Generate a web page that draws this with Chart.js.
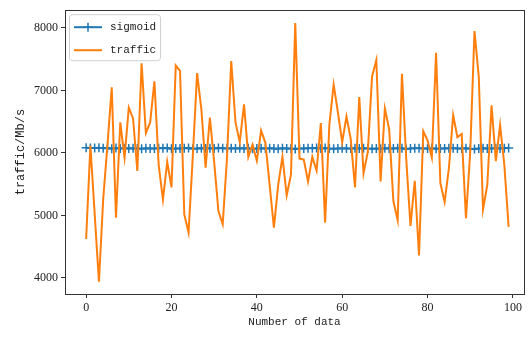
<!DOCTYPE html>
<html>
<head>
<meta charset="utf-8">
<script src="https://cdn.jsdelivr.net/npm/chart.js@4/dist/chart.umd.min.js"></script>
<style>
  body { margin:0; background:#fff; }
  #wrap { width:530px; height:340px; }
</style>
</head>
<body>
<div id="wrap"><canvas id="grafica" width="530" height="340"></canvas></div>
<script>
// valores
var traffic=[4623,6120,5030,3939,5260,6130,7050,4964,6489,5927,
  6725,6552,5711,7435,6320,6489,7146,5806,5254,5858,
  5448,7399,7314,5017,4728,5950,7277,6699,5763,6567,
  5858,5070,4860,5910,7472,6489,6173,6778,5937,6131,
  5874,6358,6162,5490,4806,5490,5937,5322,5654,8077,
  5910,5895,5543,5937,5716,6478,4885,6462,7093,6647,
  6173,6583,6225,5448,6894,5674,6016,7225,7487,5543,
  6710,6383,5227,4923,7266,5910,4833,5554,4360,6347,
  6200,5927,7604,5516,5216,5752,6604,6252,6304,4954,
  6016,7950,7225,5096,5490,6762,5869,6446,5800,4817];

var sigmoid=[6085,6080,6078,6082,6075,6080,6068,6078,6072,6076,
  6070,6074,6072,6068,6076,6072,6070,6076,6074,6078,
  6066,6072,6070,6074,6078,6066,6072,6074,6070,6076,
  6072,6078,6074,6070,6074,6070,6076,6072,6074,6068,
  6072,6076,6070,6074,6072,6066,6074,6070,6072,6064,
  6070,6072,6074,6076,6078,6072,6080,6070,6068,6072,
  6074,6070,6072,6076,6070,6074,6072,6068,6072,6066,
  6074,6070,6072,6076,6074,6064,6072,6074,6076,6072,
  6070,6074,6066,6072,6070,6074,6076,6072,6070,6074,
  6068,6062,6070,6074,6072,6070,6076,6072,6074,6078];

var xTicks=[0,20,40,60,80,100];
var yTicks=[4000,5000,6000,7000,8000];
var etiquetas=['sigmoid','traffic'];

var puntosS=[];
var puntosT=[];
for(var x=0;x<traffic.length;x++)
{
  puntosS.push({x:x,y:sigmoid[x]});
  puntosT.push({x:x,y:traffic[x]});
}

var azul='#1f77b4';
var naranja='#ff7f0e';
var ejes='#333333';

// marco de ejes estilo matplotlib
var marco={
  id:'marco',
  afterDatasetsDraw:function(chart){
    var a=chart.chartArea, c=chart.ctx;
    c.save();
    c.strokeStyle=ejes;
    c.lineWidth=1;
    c.strokeRect(Math.round(a.left)+0.5,Math.round(a.top)+0.5,Math.round(a.right-a.left),Math.round(a.bottom-a.top));
    c.restore();
  }
};

// leyenda con recuadro
var leyenda={
  id:'leyenda',
  afterDraw:function(chart){
    var a=chart.chartArea, c=chart.ctx;
    var x0=a.left+4, y0=a.top+4, w=91, h=46;
    c.save();
    c.fillStyle='rgba(255,255,255,0.85)';
    c.strokeStyle='#d0d0d0';
    c.lineWidth=1;
    c.beginPath();
    c.roundRect(x0+0.5,y0+0.5,w,h,3);
    c.fill();
    c.stroke();
    var cols=[azul,naranja];
    for(var i=0;i<2;i++)
    {
      var yy=y0+13+i*23;
      c.strokeStyle=cols[i];
      c.lineWidth=2;
      c.beginPath();
      c.moveTo(x0+5,yy);
      c.lineTo(x0+33,yy);
      c.stroke();
      if(i==0){
        c.lineWidth=1.5;
        c.beginPath();
        c.moveTo(x0+19,yy-4.5); c.lineTo(x0+19,yy+4.5);
        c.moveTo(x0+14.5,yy); c.lineTo(x0+23.5,yy);
        c.stroke();
      }
      c.fillStyle='#222';
      c.font='11px "Liberation Mono"';
      c.textBaseline='middle';
      c.fillText(etiquetas[i],x0+41,yy);
    }
    c.restore();
  }
};

var ctx=document.getElementById('grafica').getContext('2d');
var myChart=new Chart(ctx,{
  type:'line',
  data:{
    datasets:[{
      label:etiquetas[0],
      data:puntosS,
      borderColor:azul,
      backgroundColor:azul,
      borderWidth:2,
      pointStyle:'cross',
      pointRadius:4.5,
      pointBorderWidth:1.5,
      pointBorderColor:azul,
      order:1
    },{
      label:etiquetas[1],
      data:puntosT,
      borderColor:naranja,
      borderWidth:2,
      pointRadius:0,
      tension:0,
      order:0
    }]
  },
  options:{
    responsive:false,
    animation:false,
    layout:{padding:{left:0,right:5,top:6,bottom:0}},
    plugins:{
      legend:{display:false},
      tooltip:{enabled:false}
    },
    scales:{
      x:{
        type:'linear',
        min:-4.95,
        max:102.6,
        afterBuildTicks:function(s){ s.ticks=xTicks.map(function(v){return {value:v};}); },
        afterFit:function(s){ s.height=46; },
        grid:{display:true,drawOnChartArea:false,drawTicks:true,tickLength:4,color:ejes},
        border:{display:true,color:ejes},
        ticks:{color:'#222',font:{family:'"Liberation Serif"',size:12},padding:3,maxRotation:0,
          callback:function(v){ return String(v); }},
        title:{display:true,text:'Number of data',color:'#222',font:{family:'"Liberation Mono"',size:11},padding:{top:0,bottom:11}}
      },
      y:{
        min:3743,
        max:8284,
        afterBuildTicks:function(s){ s.ticks=yTicks.map(function(v){return {value:v};}); },
        afterFit:function(s){ s.width=65; },
        grid:{display:true,drawOnChartArea:false,drawTicks:true,tickLength:4,color:ejes},
        border:{display:true,color:ejes},
        ticks:{color:'#222',font:{family:'"Liberation Serif"',size:12},padding:3,
          callback:function(v){ return String(v); }},
        title:{display:true,text:'traffic/Mb/s',color:'#222',font:{family:'"Liberation Mono"',size:12},padding:{top:14,bottom:0}}
      }
    }
  },
  plugins:[marco,leyenda]
});
</script>
</body>
</html>
